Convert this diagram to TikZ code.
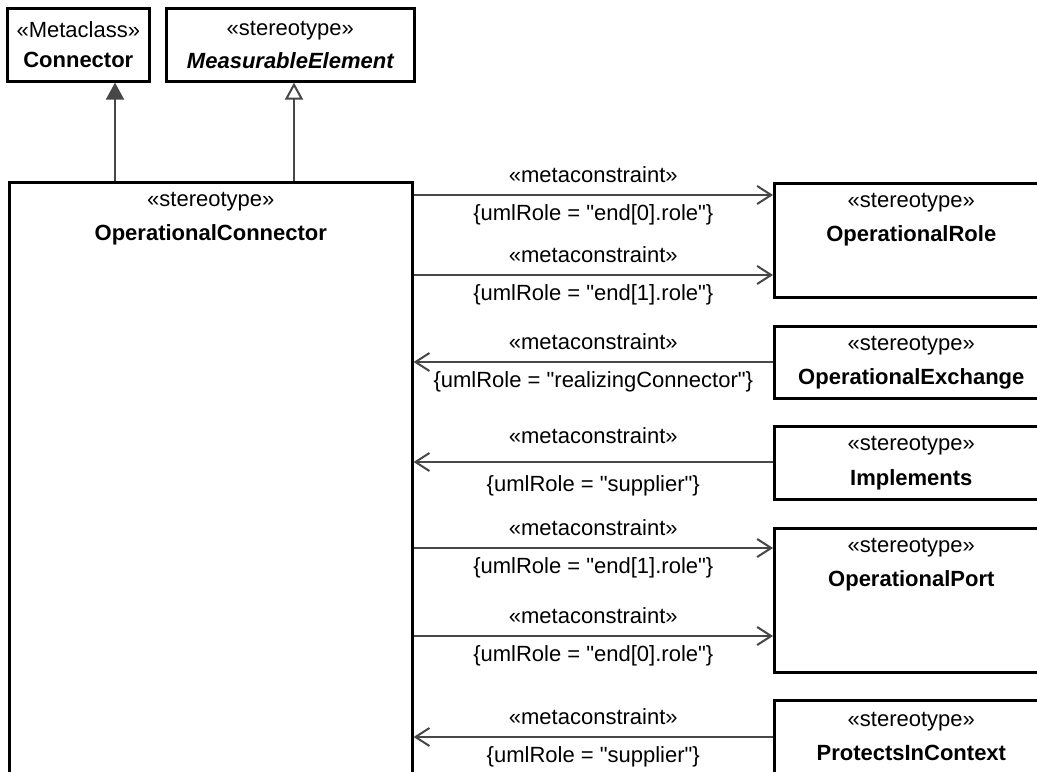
\documentclass[tikz,border=0pt]{standalone}
\usepackage{fontspec}
\setmainfont{Liberation Sans}[Ligatures=TeXOff]
\usetikzlibrary{arrows.meta, positioning}
\definecolor{linegray}{HTML}{474747}

\begin{document}
\begin{tikzpicture}[
    x=0.5pt, y=-0.5pt,
    font=\fontsize{11}{13}\selectfont,
    umlbox/.style={rectangle, draw=black, line width=1.3pt, fill=white, inner sep=0pt, anchor=north west},
    stereo/.style={anchor=base},
    title/.style={anchor=base, font=\fontsize{11}{13}\selectfont\bfseries},
    assoc/.style={draw=linegray, line width=1pt, -{Straight Barb[length=7pt, width=9pt]}},
    extend/.style={draw=linegray, line width=1pt, -{Triangle[length=8.5pt, width=9pt, fill=linegray]}},
    general/.style={draw=linegray, line width=1pt, -{Triangle[open, length=8.5pt, width=9pt, fill=white]}},
    uplabel/.style={midway, anchor=base, yshift=6.5pt},
    downlabel/.style={midway, anchor=base, yshift=-12.5pt}
]
\useasboundingbox (0,0) rectangle (1037,771);
\clip (0,0) rectangle (1037,771);
\fill[white] (0,0) rectangle (1037,771);

% metaclasses on top
\node (conn) [umlbox, minimum width=71pt, minimum height=36.5pt] at (6,7) {};
\node (conn_st) [stereo, yshift=-15pt] at (conn.north) {«Metaclass»};
\node (conn_nm) [title, yshift=-30pt] at (conn.north) {Connector};

\node (meas) [umlbox, minimum width=124pt, minimum height=36.5pt] at (165,7) {};
\node (meas_st) [stereo, yshift=-14pt] at (meas.north) {«stereotype»};
\node (meas_nm) [title, yshift=-30.5pt] at (meas.north) {\itshape MeasurableElement};

% main stereotype
\node (main) [umlbox, minimum width=201.5pt, minimum height=309.5pt] at (8,181) {};
\node (main_st) [stereo, yshift=-12.5pt] at (main.north) {«stereotype»};
\node (main_nm) [title, yshift=-29.5pt] at (main.north) {OperationalConnector};

% related stereotypes
\node (role) [umlbox, minimum width=137pt, minimum height=57pt] at (773,182) {};
\node (role_st) [stereo, yshift=-12.5pt] at (role.north) {«stereotype»};
\node (role_nm) [title, yshift=-29.5pt] at (role.north) {OperationalRole};

\node (exch) [umlbox, minimum width=137pt, minimum height=36pt] at (773,325) {};
\node (exch_st) [stereo, yshift=-12.5pt] at (exch.north) {«stereotype»};
\node (exch_nm) [title, yshift=-29.5pt] at (exch.north) {OperationalExchange};

\node (impl) [umlbox, minimum width=137pt, minimum height=36.5pt] at (773,425) {};
\node (impl_st) [stereo, yshift=-12.5pt] at (impl.north) {«stereotype»};
\node (impl_nm) [title, yshift=-30pt] at (impl.north) {Implements};

\node (port) [umlbox, minimum width=137pt, minimum height=72pt] at (773,527) {};
\node (port_st) [stereo, yshift=-12.5pt] at (port.north) {«stereotype»};
\node (port_nm) [title, yshift=-29.5pt] at (port.north) {OperationalPort};

\node (prot) [umlbox, minimum width=137pt, minimum height=50.5pt] at (773,699) {};
\node (prot_st) [stereo, yshift=-13.5pt] at (prot.north) {«stereotype»};
\node (prot_nm) [title, yshift=-30.5pt] at (prot.north) {ProtectsInContext};

% heights and columns of the connectors
\coordinate (g1) at (115,0);
\coordinate (g2) at (294,0);
\coordinate (a1) at (0,195);
\coordinate (a2) at (0,275);
\coordinate (a3) at (0,362);
\coordinate (a4) at (0,462);
\coordinate (a5) at (0,548);
\coordinate (a6) at (0,636);
\coordinate (a7) at (0,737);

\draw [extend] (main.north -| g1) -- (conn.south -| g1);
\draw [general] (main.north -| g2) -- (meas.south -| g2);

\draw [assoc] (main.east |- a1) -- (role.west |- a1)
    node [uplabel] {«metaconstraint»} node [downlabel] {\{umlRole = "end[0].role"\}};
\draw [assoc] (main.east |- a2) -- (role.west |- a2)
    node [uplabel] {«metaconstraint»} node [downlabel] {\{umlRole = "end[1].role"\}};
\draw [assoc] (exch.west |- a3) -- (main.east |- a3)
    node [uplabel] {«metaconstraint»} node [downlabel] {\{umlRole = "realizingConnector"\}};
\draw [assoc] (impl.west |- a4) -- (main.east |- a4)
    node [uplabel, yshift=3pt] {«metaconstraint»} node [downlabel, yshift=-2pt] {\{umlRole = "supplier"\}};
\draw [assoc] (main.east |- a5) -- (port.west |- a5)
    node [uplabel] {«metaconstraint»} node [downlabel] {\{umlRole = "end[1].role"\}};
\draw [assoc] (main.east |- a6) -- (port.west |- a6)
    node [uplabel] {«metaconstraint»} node [downlabel] {\{umlRole = "end[0].role"\}};
\draw [assoc] (prot.west |- a7) -- (main.east |- a7)
    node [uplabel] {«metaconstraint»} node [downlabel] {\{umlRole = "supplier"\}};

\end{tikzpicture}
\end{document}
